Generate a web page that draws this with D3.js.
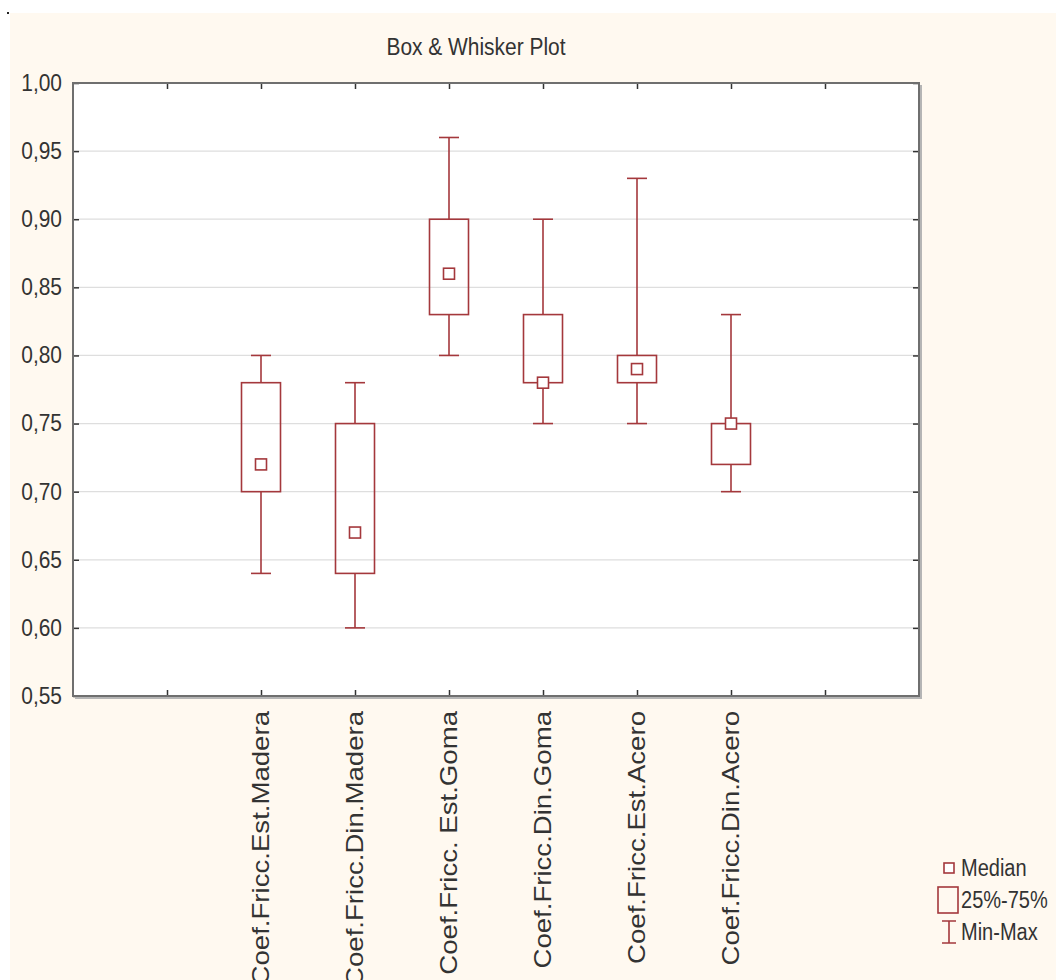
<!DOCTYPE html>
<html lang="en">
<head>
    <meta charset="UTF-8">
    <title>Box & Whisker Plot</title>
    <script src="https://d3js.org/d3.v7.min.js"></script>
    <style>
        html, body { margin: 0; height: 100%; overflow: hidden; background: #fff; }
    </style>
</head>
<body>
    <svg id="svg"></svg>
    <script>
        // data
        const categories = ['Coef.Fricc.Est.Madera', 'Coef.Fricc.Din.Madera', 'Coef.Fricc. Est.Goma',
            'Coef.Fricc.Din.Goma', 'Coef.Fricc.Est.Acero', 'Coef.Fricc.Din.Acero'];
        const mins    = [0.64, 0.60, 0.80, 0.75, 0.75, 0.70];
        const q1s     = [0.70, 0.64, 0.83, 0.78, 0.78, 0.72];
        const medians = [0.72, 0.67, 0.86, 0.78, 0.79, 0.75];
        const q3s     = [0.78, 0.75, 0.90, 0.83, 0.80, 0.75];
        const maxs    = [0.80, 0.78, 0.96, 0.90, 0.93, 0.83];
        const yTicks  = [0.55, 0.60, 0.65, 0.70, 0.75, 0.80, 0.85, 0.90, 0.95, 1.00];
        const legendItems = ['Median', '25%-75%', 'Min-Max'];

        const width = 1056, height = 980;
        const svg = d3.select('#svg').attr('width', width).attr('height', height);

        const boxColor = '#a4383c';
        const frameColor = '#6f6f6f';
        const sans = "'Liberation Sans', Arial, sans-serif";

        // the source picture is squeezed sideways, so flat text is drawn a bit narrower
        const squeeze = k => sel => sel.each(function () {
            const w = this.getComputedTextLength();
            d3.select(this).attr('textLength', w * k).attr('lengthAdjust', 'spacingAndGlyphs');
        });

        // cream page background
        svg.append('rect').attr('x', 10).attr('y', 13).attr('width', width - 10).attr('height', height - 13)
            .attr('fill', '#fff9f0');
        svg.append('rect').attr('x', 7).attr('y', 12).attr('width', 2).attr('height', 2).attr('fill', '#222');

        const plot = { left: 73, right: 919, top: 83, bottom: 696 };

        const x = d3.scaleLinear().domain([0, 9]).range([plot.left, plot.right]);
        const y = d3.scaleLinear().domain([0.55, 1.0]).range([plot.bottom, plot.top]);
        const pos = categories.map((c, i) => i + 2);

        svg.append('rect')
            .attr('x', plot.left).attr('y', plot.top)
            .attr('width', plot.right - plot.left).attr('height', plot.bottom - plot.top)
            .attr('fill', '#fff');

        // grid
        svg.append('g').selectAll('line').data(yTicks.slice(1, -1)).join('line')
            .attr('x1', plot.left).attr('x2', plot.right)
            .attr('y1', d => y(d)).attr('y2', d => y(d))
            .attr('stroke', '#dedede').attr('stroke-width', 1.2);

        // y axis
        const fmt = d => d3.format('.2f')(d).replace('.', ',');
        const yAxis = svg.append('g').attr('transform', `translate(${plot.left},0)`)
            .call(d3.axisLeft(y).tickValues(yTicks).tickFormat(fmt).tickSize(-6).tickPadding(11));
        yAxis.select('.domain').remove();
        yAxis.selectAll('line').attr('stroke', '#333').attr('stroke-width', 1.5);
        yAxis.selectAll('text').attr('font-family', sans).attr('font-size', 23).attr('fill', '#333')
            .call(squeeze(0.91));

        // right ticks
        svg.append('g').attr('transform', `translate(${plot.right},0)`)
            .call(d3.axisRight(y).tickValues(yTicks).tickFormat('').tickSize(-6))
            .call(g => g.select('.domain').remove())
            .selectAll('line').attr('stroke', '#333').attr('stroke-width', 1.5);

        // top and bottom ticks
        const xTicks = d3.range(1, 9);
        svg.append('g').attr('transform', `translate(0,${plot.top})`)
            .call(d3.axisTop(x).tickValues(xTicks).tickFormat('').tickSize(-6))
            .call(g => g.select('.domain').remove())
            .selectAll('line').attr('stroke', '#333').attr('stroke-width', 1.5);
        svg.append('g').attr('transform', `translate(0,${plot.bottom})`)
            .call(d3.axisBottom(x).tickValues(xTicks).tickFormat('').tickSize(-6))
            .call(g => g.select('.domain').remove())
            .selectAll('line').attr('stroke', '#333').attr('stroke-width', 1.5);

        // frame with shadow on right/bottom
        svg.append('path')
            .attr('d', `M${plot.right + 2},${plot.top + 2}V${plot.bottom + 2}H${plot.left + 2}`)
            .attr('fill', 'none').attr('stroke', '#b5b5b5').attr('stroke-width', 2);
        svg.append('rect')
            .attr('x', plot.left).attr('y', plot.top)
            .attr('width', plot.right - plot.left).attr('height', plot.bottom - plot.top)
            .attr('fill', 'none').attr('stroke', frameColor).attr('stroke-width', 2);

        // boxes
        const boxW = 39, capW = 20, medS = 11;
        const boxes = svg.append('g').selectAll('g').data(categories).join('g');
        boxes.append('line')
            .attr('x1', (d, i) => x(pos[i])).attr('x2', (d, i) => x(pos[i]))
            .attr('y1', (d, i) => y(maxs[i])).attr('y2', (d, i) => y(q3s[i]))
            .attr('stroke', boxColor).attr('stroke-width', 1.6);
        boxes.append('line')
            .attr('x1', (d, i) => x(pos[i])).attr('x2', (d, i) => x(pos[i]))
            .attr('y1', (d, i) => y(q1s[i])).attr('y2', (d, i) => y(mins[i]))
            .attr('stroke', boxColor).attr('stroke-width', 1.6);
        boxes.append('line')
            .attr('x1', (d, i) => x(pos[i]) - capW / 2).attr('x2', (d, i) => x(pos[i]) + capW / 2)
            .attr('y1', (d, i) => y(maxs[i])).attr('y2', (d, i) => y(maxs[i]))
            .attr('stroke', boxColor).attr('stroke-width', 1.6);
        boxes.append('line')
            .attr('x1', (d, i) => x(pos[i]) - capW / 2).attr('x2', (d, i) => x(pos[i]) + capW / 2)
            .attr('y1', (d, i) => y(mins[i])).attr('y2', (d, i) => y(mins[i]))
            .attr('stroke', boxColor).attr('stroke-width', 1.6);
        boxes.append('rect')
            .attr('x', (d, i) => x(pos[i]) - boxW / 2).attr('width', boxW)
            .attr('y', (d, i) => y(q3s[i])).attr('height', (d, i) => y(q1s[i]) - y(q3s[i]))
            .attr('fill', 'none').attr('stroke', boxColor).attr('stroke-width', 1.6);
        boxes.append('rect')
            .attr('x', (d, i) => x(pos[i]) - medS / 2).attr('width', medS)
            .attr('y', (d, i) => y(medians[i]) - medS / 2).attr('height', medS)
            .attr('fill', '#fff').attr('stroke', boxColor).attr('stroke-width', 1.6);

        // category labels (stretched along their length, as in the source)
        svg.append('g').selectAll('text').data(categories).join('text')
            .attr('transform', (d, i) => `translate(${x(pos[i])},711) rotate(-90) scale(1.2,1)`)
            .attr('text-anchor', 'end').attr('dominant-baseline', 'central')
            .attr('font-family', sans).attr('font-size', 23).attr('fill', '#333')
            .text(d => d);

        // title
        svg.append('text').attr('x', 476).attr('y', 55).attr('text-anchor', 'middle')
            .attr('font-family', sans).attr('font-size', 23).attr('fill', '#333')
            .text('Box & Whisker Plot')
            .call(squeeze(0.91));

        // legend
        const lg = svg.append('g');
        const ly = [868, 900, 932];
        lg.selectAll('text').data(legendItems).join('text')
            .attr('x', 961).attr('y', (d, i) => ly[i]).attr('dominant-baseline', 'central')
            .attr('font-family', sans).attr('font-size', 23).attr('fill', '#333')
            .text(d => d)
            .call(squeeze(0.87));
        lg.append('rect').attr('x', 944).attr('y', ly[0] - 5).attr('width', 10).attr('height', 10)
            .attr('fill', '#fff').attr('stroke', boxColor).attr('stroke-width', 1.6);
        lg.append('rect').attr('x', 938).attr('y', ly[1] - 13).attr('width', 20).attr('height', 26)
            .attr('fill', 'none').attr('stroke', boxColor).attr('stroke-width', 1.6);
        lg.append('path')
            .attr('d', `M942,${ly[2] - 11}H956M949,${ly[2] - 11}V${ly[2] + 11}M942,${ly[2] + 11}H956`)
            .attr('fill', 'none').attr('stroke', boxColor).attr('stroke-width', 1.6);
    </script>
</body>
</html>
